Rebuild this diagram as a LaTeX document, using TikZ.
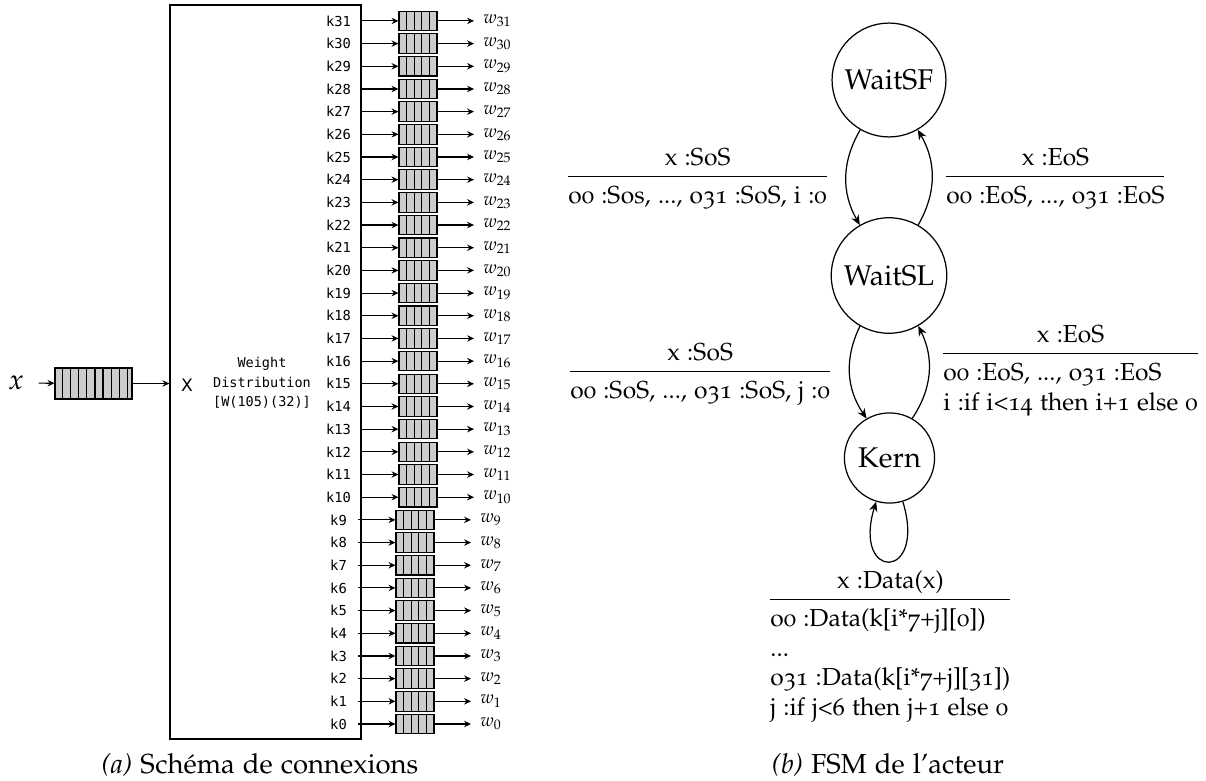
\documentclass[tikz,border=0pt]{standalone}
\usepackage[T1]{fontenc}
\usepackage[osf]{mathpazo}
\usepackage[no-math]{fontspec}
\newfontfamily\kmono{DejaVu Sans Mono}
\newfontfamily\dvsans{DejaVu Sans}
\newcommand{\pal}{\fontencoding{T1}\fontfamily{pplj}\selectfont}
\usetikzlibrary{arrows.meta,calc}
\definecolor{bufgrey}{RGB}{204,204,204}
\newcommand{\px}{0.407pt}
% transition label: condition over a rule, actions below
\newcommand{\trans}[2]{\begin{tabular}{@{}l@{}}\multicolumn{1}{@{}c@{}}{#1}\\[0.8pt]\hline\rule{0pt}{11pt}#2\end{tabular}}
\tikzset{
  buf/.style={draw, fill=bufgrey, line width=0.45pt, minimum width=38*\px, minimum height=19.5*\px, inner sep=0pt},
  klab/.style={font=\kmono\fontsize{5.6}{6}\selectfont, inner sep=0pt},
  wlab/.style={font=\fontsize{7.4}{8}\selectfont, inner sep=3.6pt},
  arr/.style={-{Stealth[length=2.8pt,width=2.6pt]}, line width=0.45pt},
  state/.style={draw, circle, line width=0.5pt, inner sep=3.8pt, font=\pal\fontsize{11.6}{14}\selectfont},
  farr/.style={-{Stealth[length=4pt,width=3.4pt]}, line width=0.5pt},
  trn/.style={inner sep=0pt, anchor=north west, font=\pal\fontsize{10}{12}\selectfont},
  capt/.style={font=\pal\fontsize{11.2}{13}\selectfont}
}
\begin{document}
\begin{tikzpicture}[x=0.407pt, y=-0.407pt]
  \useasboundingbox (0,0) rectangle (1206,781);
  % (a) connexions
  \node[draw, line width=0.5pt, minimum width=191*\px, minimum height=734*\px, inner sep=0pt] (box) at (265.5,372) {};
  \node[font=\dvsans\fontsize{7}{8}\selectfont] (xport) at (187,385) {X};
  \node[klab, align=center, font=\kmono\fontsize{5.5}{7.9}\selectfont] (wd) at (262,383) {Weight\\Distribution\\{[W(105)(32)]}};
  \node[font=\fontsize{11.5}{12}\selectfont] (xin) at (16,383) {$x$};
  \node[buf, minimum width=77*\px, minimum height=31*\px] (inbuf) at (93.5,383.5) {};
  \foreach \c in {1,...,9}
    \draw[line width=0.45pt] ($(inbuf.south west)+(\c*8.1,0)$) -- ($(inbuf.north west)+(\c*8.1,0)$);
  \draw[arr, shorten <=2.5pt] (xin) -- (inbuf);
  \draw[arr] (inbuf) -- (inbuf -| box.west);
  \foreach \i in {0,...,31}{
    \pgfmathsetmacro{\yy}{724-\i*22.68}
    \pgfmathsetmacro{\dx}{\i<10 ? -3 : 0}
    \node[klab] (k\i) at (338.5,\yy) {k\i};
    \coordinate (s\i) at (361+\dx,\yy);
    \node[buf] (b\i) at (418+\dx,\yy) {};
    \foreach \c in {1,...,4}
      \draw[line width=0.45pt] ($(b\i.south west)!\c/5!(b\i.south east)$) -- ($(b\i.north west)!\c/5!(b\i.north east)$);
    \node[wlab, anchor=west] (w\i) at (474+\dx,\yy) {$w_{\i}$};
    \draw[arr] (s\i) -- (b\i);
    \draw[arr] (b\i) -- (w\i);
  }
  \node[capt] (capa) at (260,765) {\textit{(a)} Sch\'ema de connexions};
  % (b) FSM
  \node[state] (sf) at (889,80) {WaitSF};
  \node[state] (sl) at (889,275.5) {WaitSL};
  \node[state] (kern) at (889.5,458) {Kern};
  \draw[farr] (sf) to[bend right=30] (sl);
  \draw[farr] (sl) to[bend right=30] (sf);
  \draw[farr] (sl) to[bend right=30] (kern);
  \draw[farr] (kern) to[bend right=30] (sl);
  \draw[farr] (kern) to[out=-73, in=-107, looseness=8] (kern);
  \node[trn] (t1) at (568,144) {\trans{x :SoS}{o0 :Sos, ..., o31 :SoS, i :0}};
  \node[trn] (t2) at (946,144) {\trans{x :EoS}{o0 :EoS, ..., o31 :EoS}};
  \node[trn] (t3) at (570,339) {\trans{x :SoS}{o0 :SoS, ..., o31 :SoS, j :0}};
  \node[trn] (t4) at (943,321) {\trans{x :EoS}{o0 :EoS, ..., o31 :EoS\\ i :if i<14 then i+1 else 0}};
  \node[trn] (t5) at (770,567) {\trans{x :Data(x)}{o0 :Data(k[i*7+j][0])\\ ...\\ o31 :Data(k[i*7+j][31])\\ j :if j<6 then j+1 else 0}};
  \node[capt] (capb) at (888,765) {\textit{(b)} FSM de l'acteur};
\end{tikzpicture}
\end{document}
